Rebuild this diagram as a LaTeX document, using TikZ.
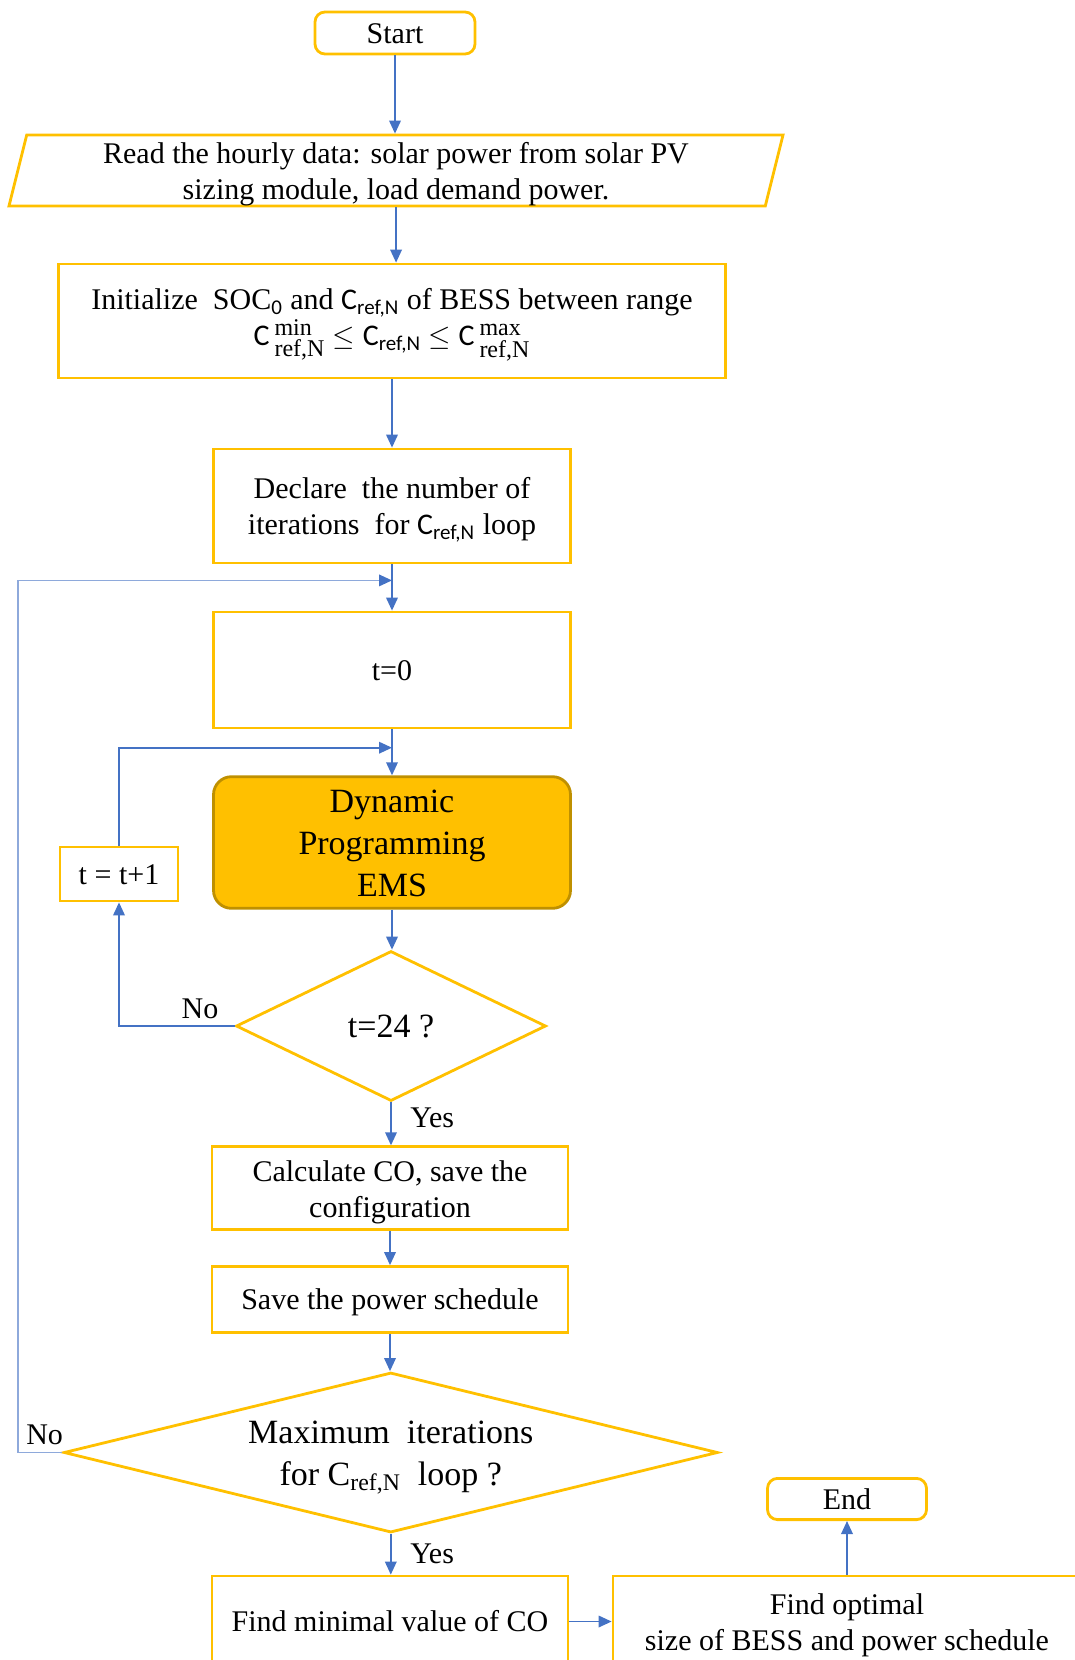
\documentclass[tikz,border=0pt]{standalone}
\usepackage{fontspec}
\usepackage{amsmath}
\setmainfont{Liberation Serif}
\newfontfamily\calib{Carlito}
\usetikzlibrary{shapes.geometric,arrows.meta}
\definecolor{boxgold}{HTML}{FFC000}
\definecolor{dpedge}{HTML}{BF9000}
\definecolor{flowblue}{HTML}{4472C4}
\definecolor{loopblue}{HTML}{8EA9DB}
\newcommand{\Crn}{{\calib C}\textsubscript{\calib ref,N}}
\newcommand{\Clim}[1]{{\calib C}\,$^{\mbox{\fontsize{12}{12}\selectfont #1}}_{\mbox{\fontsize{12}{12}\selectfont ref,N}}$}
\newcommand{\linestrut}{\rule[-0.216em]{0pt}{1.107em}}
\newcommand{\topstrut}{\rule{0pt}{0.95em}}

\begin{document}
\begin{tikzpicture}[x=0.5pt,y=-0.5pt,
  every node/.style={font=\fontsize{15}{18}\selectfont, align=center},
  box/.style={draw=boxgold, line width=1.4pt, inner sep=2pt,
    execute at begin node=\linestrut, execute at end node=\linestrut},
  term/.style={box, rounded corners=5pt},
  io/.style={box, trapezium, trapezium left angle=76, trapezium right angle=104, trapezium stretches body},
  dec/.style={box, diamond, inner sep=0pt, font=\fontsize{17}{21}\selectfont},
  arr/.style={draw=flowblue, line width=0.8pt, -{Triangle[length=6.5pt,width=5.8pt]}},
  looparr/.style={arr, draw=loopblue, -{Triangle[length=6.5pt,width=5.8pt,color=flowblue]}}]
\clip (0,0) rectangle (1075,1660);
\node[term, minimum width=80pt, minimum height=21pt] (start) at (395,33) {Start};
\node[io, minimum width=387pt, minimum height=35pt, inner sep=0pt] (read) at (396,170.5) {\topstrut Read the hourly data: solar power from solar PV\\ sizing module, load demand power.};
\node[box, minimum width=333.5pt, minimum height=57pt] (init) at (392,321) {\topstrut Initialize\ \ SOC\textsubscript{\calib 0} and \Crn{} of BESS between range\\ \Clim{min} $\leq$ \Crn{} $\leq$ \Clim{max}};
\node[box, minimum width=178.5pt, minimum height=57pt] (declare) at (392,506) {\topstrut Declare\ \ the number of\\ iterations\ \ for \Crn{} loop};
\node[box, minimum width=178.5pt, minimum height=58pt] (tzero) at (392,670) {t=0};
\node[box, rounded corners=9pt, fill=boxgold, draw=dpedge, minimum width=178.5pt, minimum height=65pt, font=\fontsize{17}{21}\selectfont] (dp) at (392,842.5) {\topstrut Dynamic\\ Programming\\ EMS};
\node[box, minimum width=59pt, minimum height=27pt] (tinc) at (119,874) {t = t+1};
\node[dec, shape aspect=2, minimum width=155pt, minimum height=75pt] (tend) at (391,1026) {t=24 ?};
\node[box, minimum width=178pt, minimum height=41.3pt] (calc) at (390,1188) {\topstrut Calculate CO, save the\\ configuration};
\node[box, minimum width=178pt, minimum height=33pt] (save) at (390,1299.5) {Save the power schedule};
\node[dec, shape aspect=4, inner sep=-3pt, minimum width=327pt, minimum height=80pt] (maxit) at (390.8,1452.5) {\topstrut Maximum\ \ iterations\\ for C\textsubscript{ref,N}\ \ loop ?};
\node[box, minimum width=178pt, minimum height=45.5pt] (findmin) at (390,1621.5) {Find minimal value of CO};
\node[box, minimum width=234pt, minimum height=45.5pt] (findopt) at (847,1621.5) {\topstrut Find optimal\\ size of BESS and power schedule};
\node[term, minimum width=79.5pt, minimum height=20.6pt] (end) at (847,1499) {End};
\coordinate (jA) at (392,580.4);
\coordinate (jB) at (392,747.7);
\draw[arr] (start.south) -- (start.south |- read.north);
\draw[arr] (read.south) -- (read.south |- init.north);
\draw[arr] (init.south) -- (init.south |- declare.north);
\draw[arr] (declare) -- (tzero);
\draw[arr] (tzero) -- (dp);
\draw[arr] (dp.south) -- (dp.south |- tend.north);
\draw[arr] (tend.south) -- node[right=6pt, pos=0.35] {Yes} (tend.south |- calc.north);
\draw[arr] (calc) -- (save);
\draw[arr] (save.south) -- (save.south |- maxit.north);
\draw[arr] (maxit.south) -- node[right=6pt] {Yes} (maxit.south |- findmin.north);
\draw[arr] (findmin) -- (findopt);
\draw[arr] (findopt) -- (end);
\draw[arr] (tend.west) -| node[pos=0.15, above] {No} (tinc.south);
\draw[arr] (tinc.north) |- (jB);
\draw[looparr] (maxit.west) -- node[pos=0.4, above] {No} ++(-44.5,0) |- (jA);
\end{tikzpicture}
\end{document}
